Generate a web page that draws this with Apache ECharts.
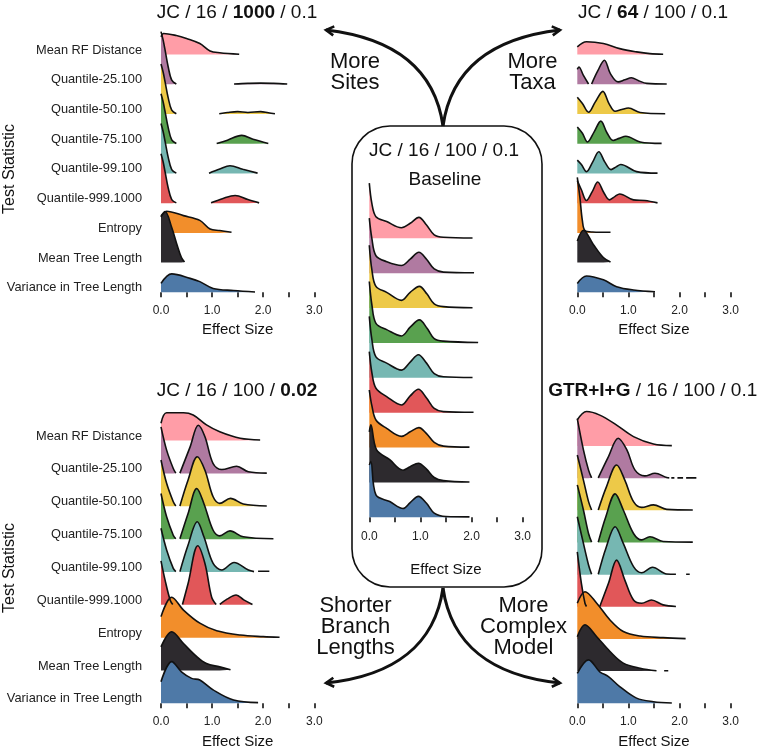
<!DOCTYPE html>
<html><head><meta charset="utf-8">
<script src="https://cdn.jsdelivr.net/npm/echarts@6/dist/echarts.min.js"></script>
<style>html,body{margin:0;padding:0;background:#fff}#c{width:760px;height:753px}</style>
</head><body><div id="c"></div>
<script>
// ---- categories (top to bottom) ----
const categories = ['Mean RF Distance','Quantile-25.100','Quantile-50.100','Quantile-75.100','Quantile-99.100','Quantile-999.1000','Entropy','Mean Tree Length','Variance in Tree Length'];
const fillColors = ['#FF9DA7','#B07AA1','#EDC948','#59A14F','#76B7B2','#E15759','#F28E2B','#2D2A2E','#4E79A7'];
const xTickLabels = ['0.0','1.0','2.0','3.0'];

// ---- density ridges: [effect size, scaled density]; null = gap ----
const moreSites = [
  [[0,0.6],[0.05,0.71],[0.3,0.64],[0.5,0.54],[0.76,0.37],[0.96,0.12],[1.15,0.06],[1.53,0.01]],
  [[0,1.77],[0.04,1.5],[0.08,1.15],[0.14,0.59],[0.21,0.14],[0.3,0.01],null,[1.43,0.01],[1.7,0.03],[1.95,0.04],[2.2,0.03],[2.47,0.01]],
  [[0,1.68],[0.04,1.42],[0.08,1.08],[0.14,0.55],[0.21,0.13],[0.3,0.01],null,[1.14,0.01],[1.3,0.05],[1.5,0.08],[1.7,0.05],[1.95,0.08],[2.1,0.04],[2.23,0.01]],
  [[0,1.68],[0.04,1.42],[0.08,1.08],[0.14,0.55],[0.21,0.13],[0.3,0.01],null,[1.09,0.01],[1.3,0.12],[1.58,0.28],[1.8,0.15],[2.1,0.01]],
  [[0,1.68],[0.04,1.42],[0.08,1.08],[0.14,0.55],[0.21,0.13],[0.3,0.01],null,[0.94,0.01],[1.15,0.15],[1.35,0.26],[1.6,0.14],[1.89,0.01]],
  [[0,1.66],[0.04,1.4],[0.08,1.05],[0.14,0.52],[0.21,0.12],[0.3,0.01],null,[0.98,0.01],[1.2,0.15],[1.45,0.26],[1.7,0.12],[1.92,0.01]],
  [[0,0.53],[0.11,0.73],[0.44,0.58],[0.76,0.42],[0.96,0.13],[1.15,0.08],[1.38,0.02]],
  [[0,1.57],[0.08,1.72],[0.21,1.18],[0.31,0.62],[0.4,0.17],[0.46,0.02]],
  [[0,0.3],[0.21,0.62],[0.57,0.47],[0.76,0.36],[1.02,0.13],[1.42,0.06],[1.84,0.01]]
];
const moreTaxa = [
  [[0,0.26],[0.18,0.43],[0.51,0.37],[0.83,0.2],[1.16,0.09],[1.42,0.03],[1.68,0.01]],
  [[0,0.5],[0.03,0.58],[0.12,0.3],[0.22,0.01],null,[0.28,0.01],[0.4,0.45],[0.53,0.81],[0.65,0.35],[0.8,0.08],[0.93,0.15],[1.06,0.22],[1.2,0.12],[1.36,0.03],[1.75,0.01]],
  [[0,0.56],[0.1,0.35],[0.22,0.06],[0.35,0.4],[0.5,0.76],[0.62,0.35],[0.74,0.09],[0.87,0.15],[1.0,0.2],[1.23,0.05],[1.72,0.01]],
  [[0,0.56],[0.1,0.35],[0.2,0.06],[0.33,0.4],[0.46,0.76],[0.58,0.37],[0.7,0.11],[0.82,0.18],[0.95,0.25],[1.23,0.06],[1.65,0.01]],
  [[0,0.45],[0.08,0.3],[0.18,0.06],[0.3,0.38],[0.42,0.73],[0.54,0.38],[0.66,0.13],[0.76,0.22],[0.85,0.3],[1.16,0.06],[1.57,0.01]],
  [[0,0.76],[0.08,0.45],[0.18,0.09],[0.29,0.38],[0.4,0.71],[0.52,0.35],[0.63,0.11],[0.74,0.23],[0.83,0.31],[1.1,0.11],[1.32,0.09],[1.57,0.01]],
  [[0,1.87],[0.05,1.2],[0.1,0.4],[0.15,0.08],[0.3,0.03],[0.65,0.02]],
  [[0,0.73],[0.12,1.09],[0.31,0.62],[0.51,0.17],[0.65,0.02]],
  [[0,0.3],[0.18,0.55],[0.51,0.42],[0.77,0.19],[1.1,0.08],[1.52,0.02]]
];
const baseline = [
  [[0,1.58],[0.05,1.0],[0.13,0.62],[0.34,0.48],[0.63,0.3],[0.8,0.43],[0.97,0.6],[1.12,0.38],[1.27,0.1],[1.45,0.03],[2.02,0.01]],
  [[0,1.58],[0.05,1.0],[0.13,0.5],[0.34,0.33],[0.63,0.22],[0.8,0.4],[0.97,0.6],[1.12,0.4],[1.27,0.12],[1.45,0.03],[2.05,0.01]],
  [[0,1.8],[0.05,1.1],[0.13,0.62],[0.34,0.45],[0.63,0.22],[0.8,0.45],[0.98,0.62],[1.13,0.4],[1.27,0.12],[1.45,0.04],[2.02,0.01]],
  [[0,1.76],[0.05,1.1],[0.13,0.56],[0.34,0.38],[0.63,0.2],[0.8,0.45],[0.98,0.66],[1.13,0.42],[1.27,0.12],[1.45,0.05],[2.13,0.01]],
  [[0,1.76],[0.05,1.1],[0.13,0.6],[0.34,0.42],[0.63,0.22],[0.8,0.45],[0.96,0.66],[1.12,0.42],[1.27,0.12],[1.45,0.03],[2.02,0.01]],
  [[0,1.75],[0.05,1.15],[0.13,0.7],[0.34,0.46],[0.63,0.22],[0.8,0.48],[0.96,0.67],[1.12,0.42],[1.27,0.12],[1.45,0.03],[2.04,0.01]],
  [[0,1.65],[0.05,1.2],[0.13,0.79],[0.34,0.55],[0.63,0.32],[0.8,0.45],[0.97,0.57],[1.12,0.4],[1.27,0.15],[1.45,0.04],[1.96,0.01]],
  [[0,1.45],[0.03,1.65],[0.14,0.94],[0.4,0.65],[0.66,0.35],[0.8,0.45],[0.96,0.55],[1.12,0.38],[1.27,0.14],[1.45,0.05],[1.96,0.01]],
  [[0,1.5],[0.03,1.6],[0.13,0.64],[0.4,0.45],[0.66,0.25],[0.8,0.42],[0.96,0.6],[1.12,0.4],[1.27,0.12],[1.5,0.02],[1.96,0.01]]
];
const shorterBranches = [
  [[0,0.53],[0.11,0.85],[0.44,0.85],[0.63,0.78],[0.89,0.48],[1.15,0.27],[1.55,0.07],[1.94,0.02]],
  [[0,1.42],[0.11,0.71],[0.24,0.15],[0.29,0.01],null,[0.37,0.01],[0.57,0.81],[0.73,1.47],[0.86,1.12],[1.02,0.3],[1.19,0.12],[1.48,0.22],[1.71,0.05],[2.07,0.01]],
  [[0,1.41],[0.11,0.7],[0.24,0.14],[0.29,0.01],null,[0.37,0.01],[0.53,0.8],[0.71,1.51],[0.86,1.1],[1.02,0.29],[1.15,0.09],[1.36,0.24],[1.61,0.07],[2.07,0.01]],
  [[0,1.39],[0.11,0.68],[0.24,0.12],[0.29,0.01],null,[0.37,0.01],[0.53,0.78],[0.7,1.54],[0.84,1.08],[1.02,0.27],[1.15,0.1],[1.35,0.25],[1.61,0.07],[2.2,0.01]],
  [[0,1.33],[0.11,0.67],[0.24,0.11],[0.29,0.01],null,[0.37,0.01],[0.53,0.82],[0.71,1.53],[0.84,1.07],[1.02,0.26],[1.19,0.06],[1.43,0.29],[1.71,0.06],[1.82,0.01],null,[1.9,0.02],[2.12,0.02]],
  [[0,1.34],[0.08,0.75],[0.18,0.14],[0.23,0.01],null,[0.42,0.01],[0.53,0.65],[0.72,1.8],[0.86,1.26],[0.99,0.24],[1.08,0.01],null,[1.15,0.01],[1.3,0.18],[1.47,0.3],[1.62,0.15],[1.79,0.01]],
  [[0,0.64],[0.21,1.23],[0.44,0.84],[0.76,0.44],[1.09,0.21],[1.55,0.08],[2.0,0.03],[2.32,0.01]],
  [[0,0.72],[0.21,1.18],[0.44,0.82],[0.7,0.42],[0.89,0.21],[1.15,0.11],[1.36,0.02]],
  [[0,0.66],[0.21,1.27],[0.4,0.96],[0.6,0.76],[0.76,0.71],[1.02,0.41],[1.42,0.1],[1.9,0.02]]
];
const complexModel = [
  [[0,0.81],[0.18,1.07],[0.44,0.96],[0.77,0.65],[1.1,0.29],[1.49,0.06],[1.85,0.01]],
  [[0,1.85],[0.12,0.88],[0.22,0.25],[0.28,0.01],null,[0.41,0.01],[0.61,0.67],[0.8,1.24],[0.97,0.88],[1.13,0.25],[1.32,0.07],[1.52,0.15],[1.75,0.02],[1.8,0.01],null,[1.84,0.01],[1.9,0.01],null,[1.96,0.01],[2.07,0.01],null,[2.13,0.01],[2.33,0.01]],
  [[0,1.72],[0.12,0.94],[0.22,0.27],[0.28,0.01],null,[0.41,0.01],[0.57,0.73],[0.77,1.41],[0.93,0.94],[1.1,0.27],[1.26,0.09],[1.49,0.17],[1.75,0.03],[2.26,0.01]],
  [[0,1.79],[0.12,1.01],[0.22,0.28],[0.28,0.01],null,[0.41,0.01],[0.56,0.81],[0.74,1.51],[0.9,1.01],[1.1,0.28],[1.26,0.08],[1.42,0.18],[1.68,0.03],[2.26,0.01]],
  [[0,1.8],[0.12,0.97],[0.22,0.3],[0.28,0.01],null,[0.41,0.01],[0.56,0.82],[0.74,1.49],[0.9,0.97],[1.1,0.25],[1.26,0.06],[1.47,0.23],[1.75,0.02],[1.93,0.01],null,[2.13,0.01],[2.2,0.01]],
  [[0,1.71],[0.08,0.73],[0.15,0.11],[0.18,0.01],null,[0.44,0.01],[0.61,0.73],[0.77,1.45],[0.93,0.83],[1.1,0.21],[1.26,0.11],[1.45,0.21],[1.68,0.06],[1.93,0.01]],
  [[0,1.11],[0.15,1.47],[0.38,1.11],[0.64,0.59],[0.9,0.23],[1.23,0.09],[1.68,0.04],[2.12,0.01]],
  [[0,1.07],[0.15,1.44],[0.38,1.07],[0.64,0.61],[0.9,0.25],[1.23,0.09],[1.55,0.01],null,[1.7,0.01],[1.78,0.01]],
  [[0,0.93],[0.22,1.35],[0.44,0.98],[0.61,0.83],[0.83,0.52],[1.16,0.16],[1.49,0.05],[1.85,0.01]]
];

const FONT = '"Liberation Sans", Arial, Helvetica, sans-serif';
const INK = '#111';

const panels = [
  {curves: moreSites, left: 161, top: 27.8, height: 267.5, min: -0.1, max: 8.9, labels: true, nameGap: 27},
  {curves: moreTaxa, left: 577.3, top: 27.8, height: 267.5, min: -0.1, max: 8.9, labels: false, nameGap: 27},
  {curves: baseline, left: 369.3, top: 179, height: 342.8, min: -0.13, max: 9.7, labels: false, nameGap: 41},
  {curves: shorterBranches, left: 161, top: 404.5, height: 302.1, min: -0.1, max: 9.1, labels: true, nameGap: 27.5},
  {curves: complexModel, left: 577.3, top: 409, height: 297.5, min: -0.1, max: 9.15, labels: false, nameGap: 27.5}
];

const grid = [], xAxis = [], yAxis = [], series = [];
panels.forEach((p, gi) => {
  grid.push({left: p.left, top: p.top, width: 153.3, height: p.height});
  xAxis.push({
    type: 'value', gridIndex: gi, min: 0, max: 3, interval: 0.5,
    axisLine: {show: false}, splitLine: {show: false},
    axisTick: {show: true, length: 5, lineStyle: {color: INK, width: 1.6}},
    axisLabel: {
      margin: 9, fontSize: 12, color: '#222', fontFamily: FONT,
      formatter: v => (Math.abs(v - Math.round(v)) < 1e-9 ? xTickLabels[Math.round(v)] : '')
    },
    name: 'Effect Size', nameLocation: 'middle', nameGap: p.nameGap,
    nameTextStyle: {fontSize: 15, color: INK, fontFamily: FONT}
  });
  yAxis.push({
    type: 'value', gridIndex: gi, min: p.min, max: p.max,
    axisLine: {show: false}, axisTick: {show: false}, splitLine: {show: false},
    axisLabel: {
      show: p.labels, customValues: [0,1,2,3,4,5,6,7,8],
      formatter: v => categories[8 - Math.round(v)],
      fontSize: 12.8, color: '#222', fontFamily: FONT, margin: 19,
      verticalAlign: 'bottom', lineHeight: 9
    }
  });
  p.curves.forEach((curve, k) => {
    const row = 8 - k;
    series.push({
      type: 'line', xAxisIndex: gi, yAxisIndex: gi,
      data: curve.map(pt => pt ? [pt[0], row + pt[1]] : ['-', '-']),
      smooth: 0.35, showSymbol: false, symbol: 'none', clip: false, silent: true,
      connectNulls: false,
      lineStyle: {color: INK, width: 1.6},
      areaStyle: {color: fillColors[k], opacity: 1, origin: row}
    });
  });
});

// arrows
function arrow(x1, y1, cx1, cy1, cx2, cy2, x2, y2) {
  const dx = x2 - cx2, dy = y2 - cy2, L = Math.hypot(dx, dy);
  const ux = dx / L, uy = dy / L, a = 9, ang = Math.PI / 6;
  const rot = (s) => [x2 - a * (ux * Math.cos(s) - uy * Math.sin(s)), y2 - a * (ux * Math.sin(s) + uy * Math.cos(s))];
  return [
    {type: 'bezierCurve', shape: {x1, y1, x2, y2, cpx1: cx1, cpy1: cy1, cpx2: cx2, cpy2: cy2}, style: {stroke: INK, lineWidth: 3, fill: null}},
    {type: 'polyline', shape: {points: [rot(ang), [x2, y2], rot(-ang)]}, style: {stroke: INK, lineWidth: 2.6, fill: null}}
  ];
}
function txt(x, y, text, size, extra) {
  return Object.assign({type: 'text', x, y, style: Object.assign({text, fontSize: size, fontFamily: FONT, fill: INK, align: 'center', verticalAlign: 'middle'}, extra || {})});
}
const rich = {
  n: {fontSize: 19, fontFamily: FONT, color: INK},
  b: {fontSize: 19, fontFamily: FONT, color: INK, fontWeight: 'bold'}
};
const graphics = [
  {type: 'rect', shape: {x: 352, y: 126, width: 190, height: 461, r: 38}, style: {fill: null, stroke: INK, lineWidth: 1.6}},
  ...arrow(443, 126, 435, 70, 395, 38, 326, 30),
  ...arrow(443, 126, 451, 70, 491, 38, 560, 30),
  ...arrow(443, 588, 435, 644, 395, 676, 326, 683),
  ...arrow(443, 588, 451, 644, 491, 676, 560, 683),
  txt(355, 72, 'More\nSites', 22, {lineHeight: 21}),
  txt(532.5, 72, 'More\nTaxa', 22, {lineHeight: 21}),
  txt(355.5, 627, 'Shorter\nBranch\nLengths', 22, {lineHeight: 21}),
  txt(523.5, 627, 'More\nComplex\nModel', 22, {lineHeight: 21}),
  txt(237, 13, '{n|JC / 16 / }{b|1000}{n| / 0.1}', 19, {rich}),
  txt(653, 13, '{n|JC / }{b|64}{n| / 100 / 0.1}', 19, {rich}),
  txt(444, 151, 'JC / 16 / 100 / 0.1', 19),
  txt(445, 179.5, 'Baseline', 19),
  txt(237, 391, '{n|JC / 16 / 100 / }{b|0.02}', 19, {rich}),
  txt(652.7, 391, '{b|GTR+I+G}{n| / 16 / 100 / 0.1}', 19, {rich}),
  Object.assign(txt(10, 169, 'Test Statistic', 16), {rotation: Math.PI / 2}),
  Object.assign(txt(10, 568, 'Test Statistic', 16), {rotation: Math.PI / 2})
];

const chart = echarts.init(document.getElementById('c'), null, {renderer: 'canvas'});
chart.setOption({
  backgroundColor: '#fff',
  animation: false,
  grid, xAxis, yAxis, series,
  graphic: {elements: graphics}
});
</script></body></html>
